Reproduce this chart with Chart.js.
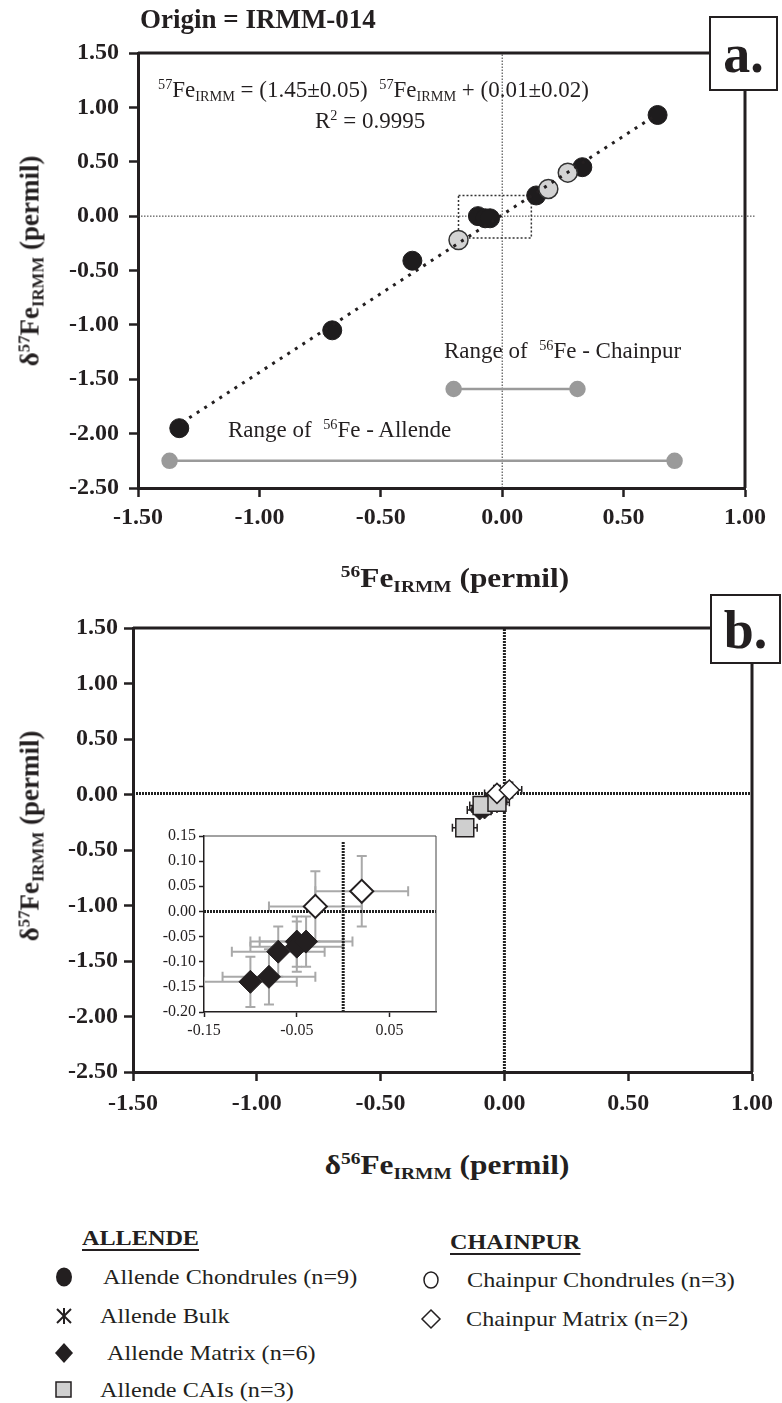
<!DOCTYPE html>
<html><head><meta charset="utf-8">
<script src="https://cdn.jsdelivr.net/npm/chart.js@4.4.0/dist/chart.umd.min.js"></script>
<style>
html,body{margin:0;padding:0;background:#fff;}
body{width:782px;height:1403px;position:relative;overflow:hidden;font-family:"Liberation Serif","Times New Roman",serif;color:#231f20;}
canvas{position:absolute;}
.t{position:absolute;white-space:nowrap;line-height:1;}
.b{font-weight:bold;}
.t sup,.t sub,.yt sup,.yt sub{font-size:62%;line-height:0;position:relative;vertical-align:baseline;}
.t sup,.yt sup{top:-0.55em;}
.t sub,.yt sub{top:0.3em;}
.sx{transform-origin:0 50%;transform:scaleX(1.1);}
.box{position:absolute;border:2px solid #231f20;background:#fff;font-weight:bold;font-size:54px;line-height:1;box-sizing:border-box;text-align:center;}
.yt{position:absolute;white-space:nowrap;line-height:1;font-weight:bold;font-size:27px;transform:translate(-50%,-50%) rotate(-90deg);}
.u{text-decoration:underline;text-underline-offset:4px;text-decoration-thickness:2px;}
svg{position:absolute;overflow:visible;}
</style></head><body>
<canvas id="ca" width="782" height="560" style="left:0;top:0"></canvas>
<canvas id="cb" width="782" height="580" style="left:0;top:560px"></canvas>
<canvas id="ci" width="320" height="236" style="left:130px;top:816px"></canvas>

<div class="t b" style="left:140px;top:6px;font-size:27px;">Origin = IRMM-014</div>
<div class="box" style="left:709px;top:16px;width:69px;height:75px;padding-top:9px;">a.</div>
<div class="box" style="left:710px;top:594px;width:71px;height:70px;padding-top:7px;">b.</div>

<div class="t" style="left:158px;top:78px;font-size:23px;"><sup>57</sup>Fe<sub>IRMM</sub> = (1.45±0.05)&nbsp; <sup>57</sup>Fe<sub>IRMM</sub> + (0.01±0.02)</div>
<div class="t" style="left:315px;top:109px;font-size:23px;">R<sup>2</sup> = 0.9995</div>
<div class="t" style="left:444px;top:339px;font-size:23px;">Range of&nbsp; <sup>56</sup>Fe - Chainpur</div>
<div class="t" style="left:228px;top:418px;font-size:23px;">Range of&nbsp; <sup>56</sup>Fe - Allende</div>

<div class="yt" style="left:30px;top:261px;">δ<sup>57</sup>Fe<sub>IRMM</sub> (permil)</div>
<div class="yt" style="left:30px;top:836px;">δ<sup>57</sup>Fe<sub>IRMM</sub> (permil)</div>

<div class="t b" style="left:455px;top:564px;font-size:28px;transform:translateX(-50%) scaleX(1.12);"><sup>56</sup>Fe<sub>IRMM</sub> (permil)</div>
<div class="t b" style="left:447px;top:1151px;font-size:28px;transform:translateX(-50%) scaleX(1.12);">δ<sup>56</sup>Fe<sub>IRMM</sub> (permil)</div>

<div class="t b u sx" style="left:82px;top:1227px;font-size:22px;">ALLENDE</div>
<div class="t b u sx" style="left:450px;top:1231px;font-size:22px;">CHAINPUR</div>
<div class="t sx" style="left:103px;top:1266px;font-size:22px;">Allende Chondrules (n=9)</div>
<div class="t sx" style="left:100px;top:1305px;font-size:22px;">Allende Bulk</div>
<div class="t sx" style="left:107px;top:1342px;font-size:22px;">Allende Matrix (n=6)</div>
<div class="t sx" style="left:100px;top:1379px;font-size:22px;">Allende CAIs (n=3)</div>
<div class="t sx" style="left:467px;top:1269px;font-size:22px;">Chainpur Chondrules (n=3)</div>
<div class="t sx" style="left:466px;top:1308px;font-size:22px;">Chainpur Matrix (n=2)</div>

<svg style="left:0;top:0" width="782" height="1403">
  <ellipse cx="64" cy="1277" rx="8" ry="9.5" fill="#231f20"/>
  <g stroke="#231f20" stroke-width="2"><line x1="57" y1="1309" x2="71" y2="1323"/><line x1="71" y1="1309" x2="57" y2="1323"/><line x1="64" y1="1308" x2="64" y2="1324"/></g>
  <polygon points="64,1343 73,1353 64,1363 55,1353" fill="#231f20"/>
  <rect x="56" y="1382" width="15" height="15" fill="#d0d0d0" stroke="#231f20" stroke-width="1.5"/>
  <ellipse cx="431" cy="1280" rx="7" ry="8" fill="none" stroke="#231f20" stroke-width="1.5"/>
  <polygon points="431,1310 440,1319 431,1328 422,1319" fill="none" stroke="#231f20" stroke-width="1.5"/>
</svg>

<script>
// ---------- DATA ----------
// Panel a
const allendeChondX = [-1.33, -0.70, -0.37, -0.10, -0.07, -0.05, 0.14, 0.33, 0.64];
const allendeChondY = [-1.95, -1.05, -0.41, 0.00, -0.02, -0.02, 0.19, 0.45, 0.93];
const chainpurChondX = [-0.18, 0.19, 0.27];
const chainpurChondY = [-0.22, 0.25, 0.40];
const fitLineX = [-1.32, 0.62];
const fitLineY = [-1.90, 0.91];
const allendeRangeX = [-1.37, 0.71];
const allendeRangeY = [-2.25, -2.25];
const chainpurRangeX = [-0.20, 0.31];
const chainpurRangeY = [-1.59, -1.59];
const zoomBoxX = [-0.18, 0.12, 0.12, -0.18, -0.18];
const zoomBoxY = [0.19, 0.19, -0.20, -0.20, 0.19];
// Panel b
const allendeMatrixX = [-0.10, -0.08, -0.07, -0.05, -0.05, -0.04];
const allendeMatrixY = [-0.14, -0.13, -0.08, -0.06, -0.07, -0.06];
const allendeMatrixXErr = [0.05, 0.05, 0.05, 0.05, 0.05, 0.05];
const allendeMatrixYErr = [0.05, 0.055, 0.05, 0.05, 0.05, 0.05];
const allendeCaiX = [-0.16, -0.09, -0.03];
const allendeCaiY = [-0.30, -0.10, -0.07];
const allendeCaiXErr = [0.05, 0.05, 0.05];
const allendeCaiYErr = [0.03, 0.03, 0.03];
const chainpurMatrixX = [-0.03, 0.02];
const chainpurMatrixY = [0.01, 0.04];
const chainpurMatrixXErr = [0.05, 0.05];
const chainpurMatrixYErr = [0.07, 0.07];
// Tick labels
const mainXTicks = [-1.5, -1.0, -0.5, 0.0, 0.5, 1.0];
const mainYTicks = [-2.5, -2.0, -1.5, -1.0, -0.5, 0.0, 0.5, 1.0, 1.5];
const insetXTicks = [-0.15, -0.05, 0.05];
const insetYTicks = [-0.20, -0.15, -0.10, -0.05, 0.00, 0.05, 0.10, 0.15];

// ---------- helpers ----------
const pts = (xs, ys) => xs.map((v, i) => ({x: v, y: ys[i]}));
const INK = '#231f20';
const FF = '"Liberation Serif", "Times New Roman", serif';
Chart.defaults.font.family = FF;
Chart.defaults.color = INK;

const errorBarPlugin = {
  id: 'errorBars',
  beforeDatasetsDraw(chart) {
    const {ctx, chartArea, scales} = chart;
    const xs = scales.x, ys = scales.y;
    ctx.save();
    ctx.beginPath();
    ctx.rect(chartArea.left, chartArea.top, chartArea.width, chartArea.height);
    ctx.clip();
    chart.data.datasets.forEach(ds => {
      if (!ds.errX) return;
      ctx.strokeStyle = ds.errColor;
      ctx.lineWidth = ds.errWidth;
      const cap = ds.errCap;
      ds.data.forEach((p, j) => {
        const px = xs.getPixelForValue(p.x), py = ys.getPixelForValue(p.y);
        const x0 = xs.getPixelForValue(p.x - ds.errX[j]), x1 = xs.getPixelForValue(p.x + ds.errX[j]);
        const y0 = ys.getPixelForValue(p.y - ds.errY[j]), y1 = ys.getPixelForValue(p.y + ds.errY[j]);
        ctx.beginPath();
        ctx.moveTo(x0, py); ctx.lineTo(x1, py);
        ctx.moveTo(x0, py - cap); ctx.lineTo(x0, py + cap);
        ctx.moveTo(x1, py - cap); ctx.lineTo(x1, py + cap);
        ctx.moveTo(px, y0); ctx.lineTo(px, y1);
        ctx.moveTo(px - cap, y0); ctx.lineTo(px + cap, y0);
        ctx.moveTo(px - cap, y1); ctx.lineTo(px + cap, y1);
        ctx.stroke();
      });
    });
    ctx.restore();
  }
};

const framePlugin = {
  id: 'frame',
  afterDatasetsDraw(chart, args, opts) {
    const {ctx, chartArea: a} = chart;
    ctx.save();
    ctx.strokeStyle = opts.color || INK;
    ctx.lineWidth = opts.width || 3;
    ctx.beginPath();
    ctx.moveTo(a.left, a.top); ctx.lineTo(a.right, a.top); ctx.lineTo(a.right, a.bottom);
    ctx.stroke();
    ctx.restore();
  }
};

function axis(opts) {
  return {
    type: 'linear', min: opts.min, max: opts.max,
    afterBuildTicks: s => { s.ticks = opts.ticks.map(v => ({value: v})); },
    afterFit: s => { if (s.isHorizontal()) s.height = opts.size; else s.width = opts.size; },
    ticks: {
      font: {size: opts.fs, weight: opts.bold ? 'bold' : 'normal', family: FF},
      color: INK, padding: opts.pad, autoSkip: false, maxRotation: 0,
      callback: v => Number(v).toFixed(2)
    },
    grid: {display: true, drawOnChartArea: false, drawTicks: true, tickLength: opts.tl, tickWidth: opts.tw, tickColor: INK, color: INK},
    border: {display: true, width: opts.bw, color: INK}
  };
}

const baseOpts = {
  responsive: false, animation: false, devicePixelRatio: 1,
  events: [],
  plugins: {legend: {display: false}, tooltip: {enabled: false}}
};

// ---------- Panel a ----------
new Chart(document.getElementById('ca'), {
  type: 'scatter',
  data: {datasets: [
    {label: 'fit', data: pts(fitLineX, fitLineY), showLine: true, borderColor: INK, borderWidth: 3, borderDash: [3, 6], pointRadius: 0, order: 1},
    {label: 'Chainpur Chondrules', data: pts(chainpurChondX, chainpurChondY), pointRadius: 9.5, backgroundColor: '#d3d3d3', borderColor: '#333', borderWidth: 1.5, order: 2},
    {label: 'Allende Chondrules', data: pts(allendeChondX, allendeChondY), pointRadius: 9.5, backgroundColor: '#1e1c1d', borderColor: '#1e1c1d', borderWidth: 1, order: 3},
    {label: 'Chainpur range', data: pts(chainpurRangeX, chainpurRangeY), showLine: true, borderColor: '#9a9a9a', borderWidth: 2.5, pointRadius: 7, backgroundColor: '#9a9a9a', pointBorderColor: '#9a9a9a', order: 4},
    {label: 'Allende range', data: pts(allendeRangeX, allendeRangeY), showLine: true, borderColor: '#9a9a9a', borderWidth: 2.5, pointRadius: 7, backgroundColor: '#9a9a9a', pointBorderColor: '#9a9a9a', order: 4},
    {label: 'zoom box', data: pts(zoomBoxX, zoomBoxY), showLine: true, borderColor: '#333', borderWidth: 1.5, borderDash: [2, 2], pointRadius: 0, order: 5},
    {label: 'x0', data: pts([0, 0], [-2.5, 1.5]), showLine: true, borderColor: '#333', borderWidth: 1, borderDash: [1.5, 1.5], pointRadius: 0, order: 6},
    {label: 'y0', data: pts([-1.5, 1.04], [0, 0]), showLine: true, borderColor: '#333', borderWidth: 1, borderDash: [1.5, 1.5], pointRadius: 0, order: 6, clip: false}
  ]},
  options: Object.assign({}, baseOpts, {
    layout: {padding: {left: 0, right: 37, top: 53, bottom: 0}},
    scales: {
      x: axis({min: -1.5, max: 1.0, ticks: mainXTicks, size: 72, fs: 24, bold: true, pad: 6, tl: 9, tw: 2.5, bw: 3}),
      y: axis({min: -2.5, max: 1.5, ticks: mainYTicks, size: 138, fs: 24, bold: true, pad: 10, tl: 9, tw: 2.5, bw: 3})
    },
    plugins: Object.assign({}, baseOpts.plugins, {frame: {width: 3}})
  }),
  plugins: [framePlugin]
});

// ---------- Panel b ----------
new Chart(document.getElementById('cb'), {
  type: 'scatter',
  data: {datasets: [
    {label: 'Chainpur Matrix', data: pts(chainpurMatrixX, chainpurMatrixY), pointStyle: 'rectRot', pointRadius: 10, backgroundColor: '#fff', borderColor: INK, borderWidth: 1.5,
      errX: chainpurMatrixXErr, errY: chainpurMatrixYErr, errColor: INK, errWidth: 1.5, errCap: 4, order: 1},
    {label: 'Allende CAIs', data: pts(allendeCaiX, allendeCaiY), pointStyle: 'rect', pointRadius: 12.7, backgroundColor: '#cfcfcf', borderColor: INK, borderWidth: 1.5,
      errX: allendeCaiXErr, errY: allendeCaiYErr, errColor: INK, errWidth: 1.5, errCap: 4, order: 2},
    {label: 'Allende Matrix', data: pts(allendeMatrixX, allendeMatrixY), pointStyle: 'rectRot', pointRadius: 10, backgroundColor: INK, borderColor: INK, borderWidth: 1,
      errX: allendeMatrixXErr, errY: allendeMatrixYErr, errColor: INK, errWidth: 1.5, errCap: 4, order: 3},
    {label: 'x0', data: pts([0, 0], [-2.5, 1.5]), showLine: true, borderColor: '#222', borderWidth: 3, borderDash: [2, 1], pointRadius: 0, order: 6},
    {label: 'y0', data: pts([-1.5, 1.0], [0.01, 0.01]), showLine: true, borderColor: '#222', borderWidth: 3, borderDash: [2, 1], pointRadius: 0, order: 6}
  ]},
  options: Object.assign({}, baseOpts, {
    layout: {padding: {left: 0, right: 30, top: 68, bottom: 0}},
    scales: {
      x: axis({min: -1.5, max: 1.0, ticks: mainXTicks, size: 68, fs: 24, bold: true, pad: 8, tl: 9, tw: 2.5, bw: 3}),
      y: axis({min: -2.5, max: 1.5, ticks: mainYTicks, size: 133, fs: 24, bold: true, pad: 6, tl: 9, tw: 2.5, bw: 3})
    },
    plugins: Object.assign({}, baseOpts.plugins, {frame: {width: 3}})
  }),
  plugins: [errorBarPlugin, framePlugin]
});

// ---------- Inset ----------
new Chart(document.getElementById('ci'), {
  type: 'scatter',
  data: {datasets: [
    {label: 'Chainpur Matrix', data: pts(chainpurMatrixX, chainpurMatrixY), pointStyle: 'rectRot', pointRadius: 11.5, backgroundColor: '#fff', borderColor: INK, borderWidth: 2,
      errX: chainpurMatrixXErr, errY: chainpurMatrixYErr, errColor: '#a9a9a9', errWidth: 2, errCap: 5, order: 1},
    {label: 'Allende Matrix', data: pts(allendeMatrixX, allendeMatrixY), pointStyle: 'rectRot', pointRadius: 11.5, backgroundColor: INK, borderColor: INK, borderWidth: 1,
      errX: allendeMatrixXErr, errY: allendeMatrixYErr, errColor: '#a9a9a9', errWidth: 2, errCap: 5, order: 2},
    {label: 'x0', data: pts([0, 0], [-0.20, 0.14]), showLine: true, borderColor: '#222', borderWidth: 3, borderDash: [2, 1], pointRadius: 0, order: 6},
    {label: 'y0', data: pts([-0.15, 0.10], [0.0, 0.0]), showLine: true, borderColor: '#222', borderWidth: 3, borderDash: [2, 1], pointRadius: 0, order: 6}
  ]},
  options: Object.assign({}, baseOpts, {
    layout: {padding: {left: 0, right: 14, top: 20, bottom: 0}},
    scales: {
      x: axis({min: -0.15, max: 0.10, ticks: insetXTicks, size: 40, fs: 16, bold: false, pad: 4, tl: 5, tw: 1.5, bw: 1.5}),
      y: axis({min: -0.20, max: 0.15, ticks: insetYTicks, size: 74, fs: 16, bold: false, pad: 3, tl: 5, tw: 1.5, bw: 1.5})
    },
    plugins: Object.assign({}, baseOpts.plugins, {frame: {width: 1, color: '#444'}})
  }),
  plugins: [errorBarPlugin, framePlugin]
});
</script>
</body></html>
